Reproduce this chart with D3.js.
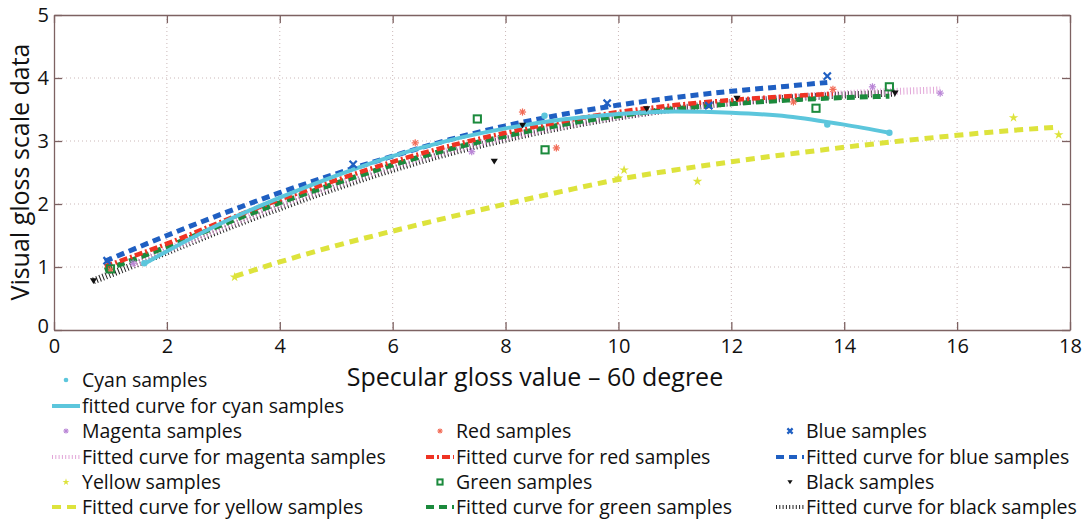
<!DOCTYPE html>
<html>
<head>
<meta charset="utf-8">
<script src="https://cdn.jsdelivr.net/npm/d3@7"></script>
<style>
  body { margin: 0; background: #fff; }
  svg { font-family: "Open Sans", "Noto Sans", sans-serif; }
</style>
</head>
<body>
<div id="chart"></div>
<script>
// sample points
var cyanX = [1.6, 8.69, 13.7, 14.8];
var cyanY = [1.06, 3.40, 3.26, 3.13];
var magentaX = [1.4, 7.4, 14.5, 15.7];
var magentaY = [1.06, 2.83, 3.86, 3.76];
var yellowX = [3.2, 10.0, 10.1, 11.4, 17.0, 17.8];
var yellowY = [0.84, 2.41, 2.54, 2.36, 3.37, 3.10];
var redX = [1.0, 6.4, 8.3, 8.9, 13.1, 13.8];
var redY = [0.95, 2.97, 3.46, 2.89, 3.62, 3.82];
var greenX = [1.0, 7.5, 8.7, 13.5, 14.8];
var greenY = [0.97, 3.35, 2.86, 3.52, 3.86];
var blueX = [0.94, 5.3, 9.8, 11.6, 13.7];
var blueY = [1.10, 2.63, 3.60, 3.56, 4.03];
var blackX = [0.7, 7.8, 8.3, 10.5, 12.1, 14.9];
var blackY = [0.78, 2.68, 3.25, 3.51, 3.68, 3.76];

// fitted curves
var cyanFitX = [1.6, 2, 3, 4, 5, 6, 7, 8, 9, 10, 11, 12, 13, 14, 14.8];
var cyanFitY = [1.05, 1.25, 1.71, 2.10, 2.45, 2.76, 3.01, 3.20, 3.34, 3.43, 3.47, 3.45, 3.39, 3.26, 3.13];
var magentaFitX = [1.4, 2, 3, 4, 5, 6, 7, 8, 9, 10, 11, 12, 13, 14, 15, 15.7];
var magentaFitY = [1.04, 1.27, 1.64, 1.99, 2.31, 2.60, 2.85, 3.06, 3.24, 3.39, 3.51, 3.61, 3.69, 3.75, 3.79, 3.81];
var yellowFitX = [3.2, 4, 5, 6, 7, 8, 9, 10, 11, 12, 13, 14, 15, 16, 17, 17.8];
var yellowFitY = [0.85, 1.08, 1.34, 1.57, 1.79, 2.0, 2.2, 2.39, 2.54, 2.67, 2.79, 2.90, 3.0, 3.09, 3.17, 3.22];
var redFitX = [0.9, 2, 3, 4, 5, 6, 7, 8, 9, 10, 11, 12, 13, 13.8];
var redFitY = [1.01, 1.37, 1.73, 2.07, 2.38, 2.67, 2.92, 3.13, 3.31, 3.46, 3.57, 3.65, 3.71, 3.75];
var greenFitX = [0.9, 2, 3, 4, 5, 6, 7, 8, 9, 10, 11, 12, 13, 14, 14.8];
var greenFitY = [0.95, 1.32, 1.68, 2.02, 2.33, 2.62, 2.87, 3.08, 3.26, 3.40, 3.51, 3.59, 3.65, 3.69, 3.71];
var blueFitX = [0.9, 2, 3, 4, 5, 6, 7, 8, 9, 10, 11, 12, 13, 13.7];
var blueFitY = [1.09, 1.50, 1.85, 2.18, 2.48, 2.76, 3.02, 3.24, 3.42, 3.57, 3.69, 3.79, 3.87, 3.93];
var blackFitX = [0.7, 2, 3, 4, 5, 6, 7, 8, 9, 10, 11, 12, 13, 14, 14.9];
var blackFitY = [0.78, 1.24, 1.60, 1.94, 2.26, 2.55, 2.81, 3.03, 3.22, 3.38, 3.51, 3.61, 3.68, 3.73, 3.76];

var xTicks = [0, 2, 4, 6, 8, 10, 12, 14, 16, 18];
var yTicks = [0, 1, 2, 3, 4, 5];

var w = 1087, h = 525;
var padL = 54, padR = 1070, padT = 15, padB = 330;

var svg = d3.select("#chart").append("svg")
	.attr("width", w)
	.attr("height", h);

var x = d3.scaleLinear().domain([0, 18]).range([padL, padR]);
var y = d3.scaleLinear().domain([0, 5]).range([padB, padT]);

var frameColor = "#7d6262";

// grid
svg.append("g").selectAll("line")
	.data(xTicks.slice(1, -1))
	.enter().append("line")
	.attr("x1", function(d) {return x(d);})
	.attr("x2", function(d) {return x(d);})
	.attr("y1", padT).attr("y2", padB)
	.attr("stroke", "#cbb8b8").attr("stroke-width", 1)
	.attr("stroke-dasharray", "1,3");
svg.append("g").selectAll("line")
	.data(yTicks.slice(1, -1))
	.enter().append("line")
	.attr("y1", function(d) {return y(d);})
	.attr("y2", function(d) {return y(d);})
	.attr("x1", padL).attr("x2", padR)
	.attr("stroke", "#cbb8b8").attr("stroke-width", 1)
	.attr("stroke-dasharray", "1,3");

// axes with inward ticks
var fmt = d3.format("d");
var xAxis = svg.append("g").attr("transform", "translate(0," + padB + ")")
	.call(d3.axisBottom(x).tickValues(xTicks).tickFormat(fmt).tickSizeInner(-8).tickSizeOuter(0).tickPadding(9));
var xAxisTop = svg.append("g").attr("transform", "translate(0," + padT + ")")
	.call(d3.axisTop(x).tickValues(xTicks).tickSizeInner(-8).tickSizeOuter(0).tickFormat(""));
var yAxis = svg.append("g").attr("transform", "translate(" + padL + ",0)")
	.call(d3.axisLeft(y).tickValues(yTicks).tickFormat(fmt).tickSizeInner(-8).tickSizeOuter(0).tickPadding(5));
var yAxisRight = svg.append("g").attr("transform", "translate(" + padR + ",0)")
	.call(d3.axisRight(y).tickValues(yTicks).tickSizeInner(-8).tickSizeOuter(0).tickFormat(""));

[xAxis, xAxisTop, yAxis, yAxisRight].forEach(function(a) {
	a.selectAll("path").attr("stroke", frameColor).attr("stroke-width", 1.3);
	a.selectAll("line").attr("stroke", frameColor).attr("stroke-width", 1.3);
	a.selectAll("text").attr("fill", "#111").attr("font-size", "20px")
		.attr("font-family", "'Open Sans', sans-serif");
});
yAxis.selectAll("text").filter(function(d) {return d == 0;}).attr("dy", "0.1em");

// series
var series = [
	{name: "cyan", px: cyanX, py: cyanY, fx: cyanFitX, fy: cyanFitY, color: "#5cc6dc", curveColor: "#5cc6dc",
	 width: 4, dash: null, marker: "circle"},
	{name: "magenta", px: magentaX, py: magentaY, fx: magentaFitX, fy: magentaFitY, color: "#b985d6", curveColor: "#e2a6d8",
	 width: 7, dash: "1,2.3", marker: "asterisk"},
	{name: "yellow", px: yellowX, py: yellowY, fx: yellowFitX, fy: yellowFitY, color: "#dde33c", curveColor: "#dde33c",
	 width: 5, dash: "9,6", marker: "star"},
	{name: "red", px: redX, py: redY, fx: redFitX, fy: redFitY, color: "#f26a55", curveColor: "#ef3323",
	 width: 4.5, dash: "8,3,2,3", marker: "asterisk"},
	{name: "green", px: greenX, py: greenY, fx: greenFitX, fy: greenFitY, color: "#1b8a3c", curveColor: "#1b8a3c",
	 width: 5, dash: "8,5", marker: "square"},
	{name: "blue", px: blueX, py: blueY, fx: blueFitX, fy: blueFitY, color: "#1f5fc2", curveColor: "#1f5fc2",
	 width: 5, dash: "8,5", marker: "cross"},
	{name: "black", px: blackX, py: blackY, fx: blackFitX, fy: blackFitY, color: "#111", curveColor: "#222",
	 width: 7, dash: "1,2.3", marker: "triangle"}
];

var line = d3.line()
	.x(function(d) {return x(d[0]);})
	.y(function(d) {return y(d[1]);})
	.curve(d3.curveMonotoneX);

// draw order roughly as in the figure
var order = ["black", "magenta", "yellow", "green", "red", "blue", "cyan"];
order.forEach(function(n) {
	var s = series.filter(function(d) {return d.name == n;})[0];
	var pts = s.fx.map(function(v, i) {return [v, s.fy[i]];});
	svg.append("path")
		.attr("class", "fit " + s.name)
		.attr("d", line(pts))
		.attr("fill", "none")
		.attr("stroke", s.curveColor)
		.attr("stroke-width", s.width)
		.attr("stroke-dasharray", s.dash);
});

function drawMarker(g, type, color, cx, cy, size) {
	if (type == "circle") {
		g.append("circle").attr("cx", cx).attr("cy", cy).attr("r", size * 0.9).attr("fill", color);
	} else if (type == "asterisk") {
		var r = size;
		[0, 45, 90, 135].forEach(function(a) {
			var rad = a * Math.PI / 180;
			g.append("line")
				.attr("x1", cx - r * Math.cos(rad)).attr("y1", cy - r * Math.sin(rad))
				.attr("x2", cx + r * Math.cos(rad)).attr("y2", cy + r * Math.sin(rad))
				.attr("stroke", color).attr("stroke-width", 1.2);
		});
	} else if (type == "star") {
		g.append("path")
			.attr("d", d3.symbol().type(d3.symbolStar).size(size * size * 2.2)())
			.attr("transform", "translate(" + cx + "," + cy + ")")
			.attr("fill", color);
	} else if (type == "square") {
		g.append("rect")
			.attr("x", cx - size).attr("y", cy - size)
			.attr("width", size * 2).attr("height", size * 2)
			.attr("fill", "none").attr("stroke", color).attr("stroke-width", 2);
	} else if (type == "cross") {
		g.append("path")
			.attr("d", "M" + (cx - size) + "," + (cy - size) + "L" + (cx + size) + "," + (cy + size) +
				"M" + (cx - size) + "," + (cy + size) + "L" + (cx + size) + "," + (cy - size))
			.attr("stroke", color).attr("stroke-width", 2.2);
	} else if (type == "triangle") {
		g.append("path")
			.attr("d", "M" + (cx - size) + "," + (cy - size * 0.7) + "L" + (cx + size) + "," + (cy - size * 0.7) +
				"L" + cx + "," + (cy + size * 0.9) + "Z")
			.attr("fill", color);
	}
}

var markers = svg.append("g");
series.forEach(function(s) {
	s.px.forEach(function(v, i) {
		drawMarker(markers, s.marker, s.color, x(v), y(s.py[i]), 3.6);
	});
});

// axis titles
svg.append("text")
	.attr("x", 535).attr("y", 386)
	.attr("text-anchor", "middle")
	.attr("font-size", "25px")
	.attr("fill", "#111")
	.text("Specular gloss value \u2013 60 degree");
svg.append("text")
	.attr("transform", "translate(29,172) rotate(-90)")
	.attr("text-anchor", "middle")
	.attr("font-size", "25px")
	.attr("fill", "#111")
	.text("Visual gloss scale data");

// legend
var legendItems = [
	{s: "cyan", kind: "pts", label: "Cyan samples", lx: 52, ly: 380},
	{s: "cyan", kind: "fit", label: "fitted curve for cyan samples", lx: 52, ly: 406},
	{s: "magenta", kind: "pts", label: "Magenta samples", lx: 52, ly: 431},
	{s: "magenta", kind: "fit", label: "Fitted curve for magenta samples", lx: 52, ly: 457},
	{s: "yellow", kind: "pts", label: "Yellow samples", lx: 52, ly: 482},
	{s: "yellow", kind: "fit", label: "Fitted curve for yellow samples", lx: 52, ly: 507},
	{s: "red", kind: "pts", label: "Red samples", lx: 426, ly: 431},
	{s: "red", kind: "fit", label: "Fitted curve for red samples", lx: 426, ly: 457},
	{s: "green", kind: "pts", label: "Green samples", lx: 426, ly: 482},
	{s: "green", kind: "fit", label: "Fitted curve for green samples", lx: 426, ly: 507},
	{s: "blue", kind: "pts", label: "Blue samples", lx: 776, ly: 431},
	{s: "blue", kind: "fit", label: "Fitted curve for blue samples", lx: 776, ly: 457},
	{s: "black", kind: "pts", label: "Black samples", lx: 776, ly: 482},
	{s: "black", kind: "fit", label: "Fitted curve for black samples", lx: 776, ly: 507}
];

var legend = svg.append("g");
legendItems.forEach(function(it) {
	var s = series.filter(function(d) {return d.name == it.s;})[0];
	if (it.kind == "pts") {
		drawMarker(legend, s.marker, s.color, it.lx + 14, it.ly, 2.6);
	} else {
		legend.append("line")
			.attr("x1", it.lx).attr("x2", it.lx + 28)
			.attr("y1", it.ly).attr("y2", it.ly)
			.attr("stroke", s.curveColor)
			.attr("stroke-width", Math.min(s.width, 4))
			.attr("stroke-dasharray", s.dash);
	}
	legend.append("text")
		.attr("x", it.lx + 30).attr("y", it.ly)
		.attr("dy", "0.35em")
		.attr("font-size", "19.5px")
		.attr("fill", "#111")
		.text(it.label);
});
</script>
</body>
</html>
